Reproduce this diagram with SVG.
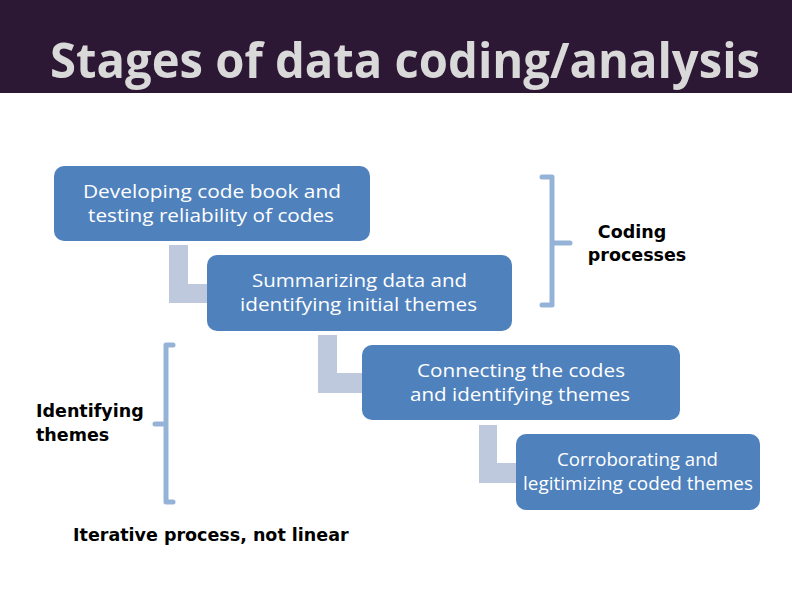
<svg xmlns="http://www.w3.org/2000/svg" width="792" height="612" viewBox="0 0 792 612">
<style>
.box{fill:#4f81bd;}
.bt{font-family:"Open Sans","Noto Sans","Liberation Sans",sans-serif;font-size:19px;fill:#ffffff;text-anchor:middle;}
.lbl{font-family:"DejaVu Sans","Liberation Sans",sans-serif;font-weight:bold;font-size:17.5px;fill:#000000;}
.conn{fill:#bfc9de;}
.br{fill:none;stroke:#95b3d7;stroke-width:5;stroke-linecap:round;stroke-linejoin:round;}
</style>
<rect x="0" y="0" width="792" height="612" fill="#ffffff"/>
<g id="title">
<rect x="0" y="0" width="792" height="93" fill="#2c1834"/>
<text x="50" y="78" font-family="Open Sans, Noto Sans, Liberation Sans, sans-serif" font-weight="bold" font-size="49" fill="#d9d9d9" textLength="710" lengthAdjust="spacingAndGlyphs">Stages of data coding/analysis</text>
</g>
<g id="connectors">
<path class="conn" d="M169,245 H188 V284 H207 V303 H169 Z"/>
<path class="conn" d="M318,335 H337 V373 H362 V393 H318 Z"/>
<path class="conn" d="M479,425 H497 V463 H516 V483 H479 Z"/>
</g>
<g id="box1">
<rect class="box" x="54" y="166" width="316" height="75" rx="10"/>
<text class="bt" x="212" y="198" textLength="258" lengthAdjust="spacingAndGlyphs">Developing code book and</text>
<text class="bt" x="211" y="222" textLength="246" lengthAdjust="spacingAndGlyphs">testing reliability of codes</text>
</g>
<g id="box2">
<rect class="box" x="207" y="255" width="305" height="76" rx="10"/>
<text class="bt" x="359.5" y="287" textLength="215" lengthAdjust="spacingAndGlyphs">Summarizing data and</text>
<text class="bt" x="358.5" y="311" textLength="237" lengthAdjust="spacingAndGlyphs">identifying initial themes</text>
</g>
<g id="box3">
<rect class="box" x="362" y="345" width="318" height="75" rx="10"/>
<text class="bt" x="521" y="377" textLength="208" lengthAdjust="spacingAndGlyphs">Connecting the codes</text>
<text class="bt" x="520" y="401" textLength="220" lengthAdjust="spacingAndGlyphs">and identifying themes</text>
</g>
<g id="box4">
<rect class="box" x="516" y="434" width="244" height="76" rx="10"/>
<text class="bt" x="637.5" y="466" textLength="161" lengthAdjust="spacingAndGlyphs">Corroborating and</text>
<text class="bt" x="638" y="490" textLength="230" lengthAdjust="spacingAndGlyphs">legitimizing coded themes</text>
</g>
<g id="coding-processes">
<path class="br" d="M542,177 H552 V305 H542 M552,243 H570"/>
<text class="lbl" x="632" y="238" text-anchor="middle">Coding</text>
<text class="lbl" x="637" y="261" text-anchor="middle">processes</text>
</g>
<g id="identifying-themes">
<path class="br" d="M173,345 H166 V502 H173 M166,424 H155"/>
<text class="lbl" x="36" y="417">Identifying</text>
<text class="lbl" x="36" y="441">themes</text>
</g>
<g id="iterative">
<text class="lbl" x="73" y="541">Iterative process, not linear</text>
</g>
</svg>
